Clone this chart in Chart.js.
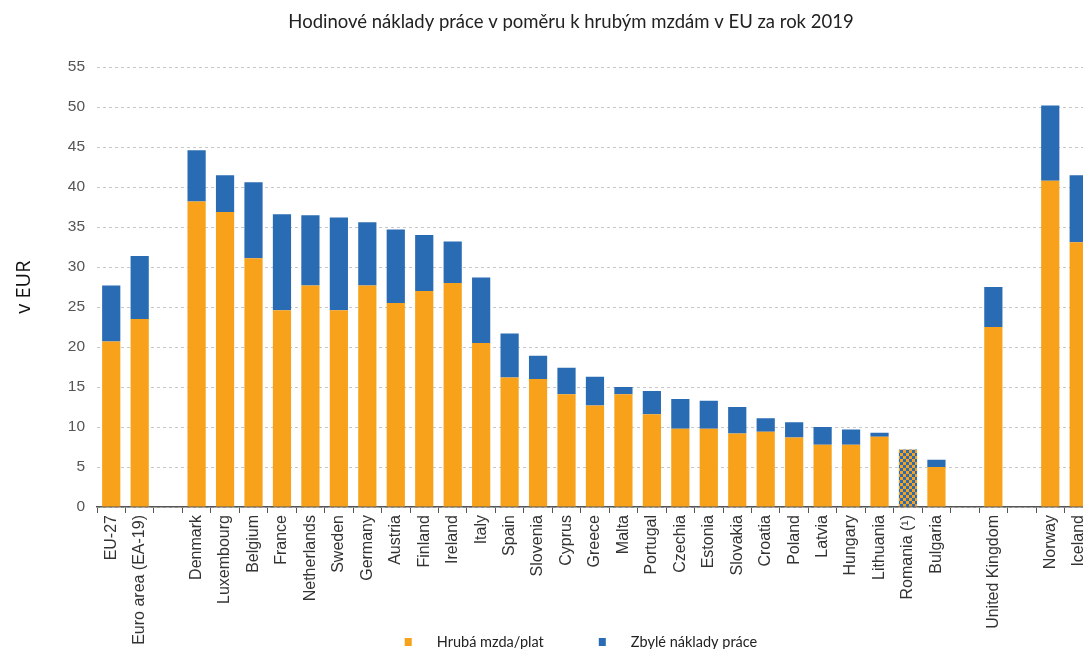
<!DOCTYPE html>
<html>
<head>
<meta charset="utf-8">
<script src="https://cdn.jsdelivr.net/npm/chart.js@4/dist/chart.umd.min.js"></script>
<style>
  html, body { margin: 0; padding: 0; background: #fff; overflow: hidden; }
  #wrap { width: 1100px; height: 649px; }
</style>
</head>
<body>
<div id="wrap"><canvas id="laborChart" width="1100" height="649"></canvas></div>
<script>
  // empty strings are the gaps between country groups
  const countries = [
    "EU-27", "Euro area (EA-19)", "",
    "Denmark", "Luxembourg", "Belgium", "France", "Netherlands", "Sweden", "Germany",
    "Austria", "Finland", "Ireland", "Italy", "Spain", "Slovenia", "Cyprus", "Greece",
    "Malta", "Portugal", "Czechia", "Estonia", "Slovakia", "Croatia", "Poland", "Latvia",
    "Hungary", "Lithuania", "Romania (¹)", "Bulgaria", "",
    "United Kingdom", "",
    "Norway", "Iceland"
  ];
  const grossWages = [
    20.7, 23.5, null,
    38.2, 36.9, 31.1, 24.6, 27.7, 24.6, 27.7,
    25.5, 27.0, 28.0, 20.5, 16.2, 16.0, 14.1, 12.7,
    14.1, 11.6, 9.8, 9.8, 9.2, 9.4, 8.7, 7.8,
    7.8, 8.8, 7.2, 5.0, null,
    22.5, null,
    40.8, 33.1
  ];
  const otherCosts = [
    7.0, 7.9, null,
    6.4, 4.6, 9.5, 12.0, 8.8, 11.6, 7.9,
    9.2, 7.0, 5.2, 8.2, 5.5, 2.9, 3.3, 3.6,
    0.9, 2.9, 3.7, 3.5, 3.3, 1.7, 1.9, 2.2,
    1.9, 0.5, 0, 0.9, null,
    5.0, null,
    9.4, 8.4
  ];
  const yTicks = [0, 5, 10, 15, 20, 25, 30, 35, 40, 45, 50, 55];

  const orange = "#F8A21B";
  const blue = "#2A6CB4";
  const FONT_UI = "Lato, 'Open Sans', sans-serif";
  const FONT_AXIS = "'Liberation Sans', Arial, sans-serif";

  const ctx = document.getElementById("laborChart").getContext("2d");

  // Romania is shown with a checkered fill (estimate)
  function checker() {
    const c = document.createElement("canvas");
    c.width = 6; c.height = 6;
    const g = c.getContext("2d");
    g.fillStyle = orange; g.fillRect(0, 0, 6, 6);
    g.fillStyle = blue; g.fillRect(0, 0, 3, 3); g.fillRect(3, 3, 3, 3);
    return ctx.createPattern(c, "repeat");
  }
  const romaniaFill = checker();
  const wageColors = countries.map(c => c.startsWith("Romania") ? romaniaFill : orange);

  // legend sits over the bottom of the rotated labels, so it is drawn by hand
  const bottomLegend = {
    id: "bottomLegend",
    afterDraw(chart) {
      const c = chart.ctx;
      const area = chart.chartArea;
      c.save();
      c.font = "14.5px " + FONT_UI;
      c.textBaseline = "middle";
      const items = chart.data.datasets.map(d => ({ text: d.label, color: d.legendColor }));
      const widths = items.map(it => 32 + c.measureText(it.text).width);
      const total = widths.reduce((a, b) => a + b, 0) + 55 * (items.length - 1);
      let x = (area.left + area.right) / 2 - 14 - total / 2;
      const y = chart.height - 7;
      items.forEach((it, i) => {
        c.fillStyle = it.color;
        c.fillRect(x, y - 4, 7, 8);
        c.fillStyle = "#222";
        c.fillText(it.text, x + 32, y);
        x += widths[i] + 55;
      });
      c.restore();
    }
  };

  new Chart(ctx, {
    type: "bar",
    data: {
      labels: countries,
      datasets: [
        {
          label: "Hrubá mzda/plat",
          data: grossWages,
          backgroundColor: wageColors,
          legendColor: orange,
          barPercentage: 0.64,
          categoryPercentage: 1
        },
        {
          label: "Zbylé náklady práce",
          data: otherCosts,
          backgroundColor: blue,
          legendColor: blue,
          barPercentage: 0.64,
          categoryPercentage: 1
        }
      ]
    },
    plugins: [bottomLegend],
    options: {
      responsive: false,
      animation: false,
      layout: { padding: { left: 48, right: 6, top: 0, bottom: 0 } },
      plugins: {
        title: {
          display: true,
          text: "Hodinové náklady práce v poměru k hrubým mzdám v EU za rok 2019",
          color: "#222",
          font: { family: FONT_UI, size: 18.5, weight: "normal" },
          padding: { top: 11, bottom: 34 }
        },
        legend: { display: false },
        tooltip: { enabled: false }
      },
      scales: {
        x: {
          stacked: true,
          grid: { display: true, drawOnChartArea: false, drawTicks: true, tickLength: 6, color: "#555", offset: true },
          border: { color: "#555", width: 1.5 },
          ticks: {
            autoSkip: false,
            minRotation: 90,
            maxRotation: 90,
            color: "#333",
            padding: 2,
            font: { family: FONT_AXIS, size: 16 }
          },
          afterFit: s => { s.height = 142; }
        },
        y: {
          stacked: true,
          min: 0,
          max: 55,
          afterBuildTicks: s => { s.ticks = yTicks.map(v => ({ value: v })); },
          ticks: {
            color: "#555",
            padding: 12,
            font: { family: FONT_AXIS, size: 15.5 }
          },
          grid: { color: "#c8c8c8", drawTicks: false },
          border: { display: false, dash: [3, 3] },
          title: {
            display: true,
            text: "v EUR",
            color: "#111",
            font: { family: "'Open Sans', sans-serif", size: 20 },
            padding: { top: -36, bottom: 0 }
          },
          afterFit: s => { s.width = 49; }
        }
      }
    }
  });
</script>
</body>
</html>
